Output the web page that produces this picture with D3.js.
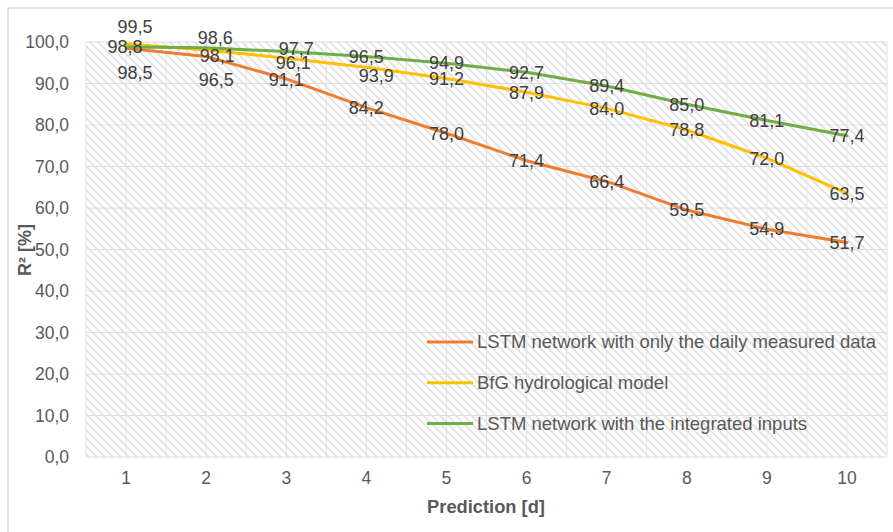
<!DOCTYPE html>
<html>
<head>
<meta charset="utf-8">
<script src="https://cdn.jsdelivr.net/npm/d3@7"></script>
<style>
  html, body { margin: 0; padding: 0; background: #fff; }
  svg { display: block; font-family: "Liberation Sans", Arial, sans-serif; }
</style>
</head>
<body>
<svg id="chart" width="893" height="532"></svg>
<script>
const categories = ["1","2","3","4","5","6","7","8","9","10"];
const lstmDaily = [98.5, 96.5, 91.1, 84.2, 78.0, 71.4, 66.4, 59.5, 54.9, 51.7];
const bfgModel = [99.5, 98.1, 96.1, 93.9, 91.2, 87.9, 84.0, 78.8, 72.0, 63.5];
const lstmIntegrated = [98.8, 98.6, 97.7, 96.5, 94.9, 92.7, 89.4, 85.0, 81.1, 77.4];
const yTicks = [0,10,20,30,40,50,60,70,80,90,100];
const seriesNames = ["LSTM network with only the daily measured data", "BfG hydrological model", "LSTM network with the integrated inputs"];

const series = [
  { name: seriesNames[0], values: lstmDaily, color: "#ED7D31" },
  { name: seriesNames[1], values: bfgModel, color: "#FFC000" },
  { name: seriesNames[2], values: lstmIntegrated, color: "#70AD47" }
];
// manual label nudges (pixels), like hand-moved labels in the original
const nudge = {
  "0-0": [9, 24], "0-1": [10, 23], "0-2": [0, 1],
  "1-0": [9, -17], "1-1": [11, 6], "1-2": [7, 5], "1-3": [10, 8],
  "2-0": [-1, 0], "2-1": [9, -10], "2-2": [10, -3]
};

const svg = d3.select("#chart");
const L = 86, R = 887, T = 42, B = 457;
const x = d3.scaleBand().domain(categories).range([L, R]).padding(0);
const cx = c => x(c) + x.bandwidth() / 2;
const y = d3.scaleLinear().domain([0, 100]).range([B, T]);
const fmt = v => v.toFixed(1).replace(".", ",");

// chart border
svg.append("rect").attr("x", 8).attr("y", 8).attr("width", 900).attr("height", 540)
  .attr("fill", "none").attr("stroke", "#d9d9d9").attr("stroke-width", 1.5);

// hatch pattern
const defs = svg.append("defs");
const pat = defs.append("pattern").attr("id", "hatch").attr("patternUnits", "userSpaceOnUse")
  .attr("width", 8).attr("height", 8);
pat.append("path").attr("d", "M-2,-2 L10,10 M-2,6 L2,10 M6,-2 L10,2")
  .attr("stroke", "#e0e0e0").attr("stroke-width", 1.6);
svg.append("rect").attr("x", L).attr("y", T).attr("width", R - L).attr("height", B - T)
  .attr("fill", "url(#hatch)");

// gridlines
const g = svg.append("g");
g.selectAll("line.h").data(yTicks).join("line")
  .attr("x1", L).attr("x2", R).attr("y1", d => y(d)).attr("y2", d => y(d))
  .attr("stroke", "#dcdcdc").attr("stroke-width", 1);
const vx = [];
categories.forEach(c => { vx.push(x(c)); vx.push(cx(c)); });
vx.push(R);
g.selectAll("line.v").data(vx).join("line")
  .attr("x1", d => d).attr("x2", d => d).attr("y1", T).attr("y2", B)
  .attr("stroke", "#e4e4e4").attr("stroke-width", 1);

// y axis labels
svg.append("g").selectAll("text").data(yTicks).join("text")
  .attr("x", 69).attr("y", d => y(d)).attr("dy", "0.35em").attr("text-anchor", "end")
  .attr("font-size", 17.5).attr("fill", "#595959").text(d => fmt(d));

// x axis labels
svg.append("g").selectAll("text").data(categories).join("text")
  .attr("x", d => cx(d)).attr("y", 478).attr("dy", "0.35em").attr("text-anchor", "middle")
  .attr("font-size", 17.5).attr("fill", "#595959").text(d => d);

// axis titles
svg.append("text").attr("x", 486).attr("y", 507).attr("dy", "0.35em").attr("text-anchor", "middle")
  .attr("font-size", 18.3).attr("font-weight", "bold").attr("fill", "#595959").text("Prediction [d]");
svg.append("text").attr("transform", "translate(25,250) rotate(-90)").attr("dy", "0.35em")
  .attr("text-anchor", "middle").attr("font-size", 18).attr("font-weight", "bold")
  .attr("fill", "#595959").text("R² [%]");

// lines
const line = d3.line().x((d, i) => cx(categories[i])).y(d => y(d));
svg.append("g").selectAll("path").data(series).join("path")
  .attr("d", d => line(d.values)).attr("fill", "none").attr("stroke", d => d.color)
  .attr("stroke-width", 3).attr("stroke-linejoin", "round").attr("stroke-linecap", "round");

// data labels
const lab = svg.append("g");
series.forEach((s, si) => {
  lab.selectAll(null).data(s.values).join("text")
    .attr("x", (d, i) => cx(categories[i]) + ((nudge[si + "-" + i] || [0, 0])[0]))
    .attr("y", (d, i) => y(d) + ((nudge[si + "-" + i] || [0, 0])[1]))
    .attr("dy", "0.35em").attr("text-anchor", "middle")
    .attr("font-size", 18).attr("fill", "#404040").text(d => fmt(d));
});

// legend
const leg = svg.append("g").selectAll("g").data(series).join("g")
  .attr("transform", (d, i) => `translate(427,${342 + i * 40.7})`);
leg.append("line").attr("x1", 0).attr("x2", 46).attr("y1", 0).attr("y2", 0)
  .attr("stroke", d => d.color).attr("stroke-width", 3);
leg.append("text").attr("x", 50).attr("dy", "0.35em").attr("font-size", 18.5)
  .attr("fill", "#595959").text(d => d.name);
</script>
</body>
</html>
